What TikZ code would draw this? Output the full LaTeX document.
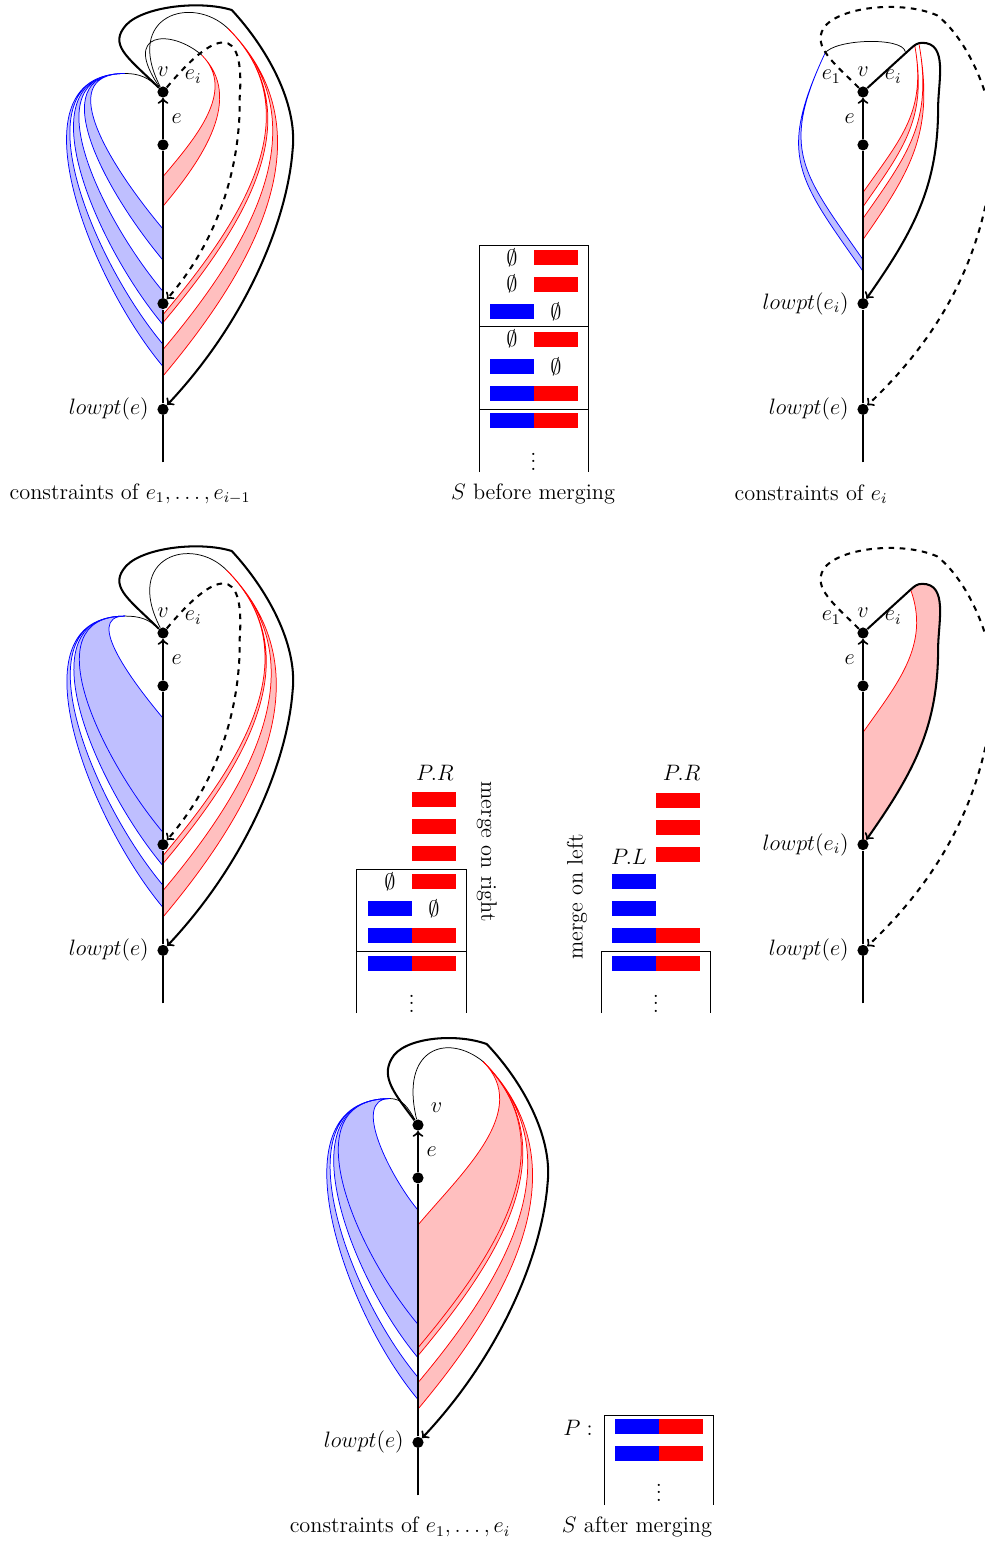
\documentclass[tikz,border=0pt]{standalone}
\usepackage{amsmath,amssymb}
\usetikzlibrary{positioning}

% a band of constraints: colour, start, out, in, then end and looseness of both sides
\newcommand{\band}[8]{%
  \fill[#1!25] #2 to[out=#3,in=#4,looseness=#6] (0,#5) -- (0,#7)
    to[out=#4,in=#3,looseness=#8] #2 -- cycle;
  \draw[#1] #2 to[out=#3,in=#4,looseness=#6] (0,#5)
    #2 to[out=#3,in=#4,looseness=#8] (0,#7);
}

\begin{document}
\begin{tikzpicture}[
  x=0.0189cm, y=-0.0189cm,
  font=\large,
  dfs/.style={x=1cm,y=1cm},
  vertex/.style={circle,fill,inner sep=0pt,minimum size=6pt},
  tree/.style={line width=1.1pt},
  back/.style={->,line width=1.1pt},
  frond/.style={->,line width=1.1pt,dashed},
  link/.style={thin},
  more/.style={inner sep=0pt}]

  \useasboundingbox (0,0) rectangle (984,1541);

  % constraints of e_1 ... e_{i-1}
  \begin{scope}[shift={(163,92)},dfs]
    \band{blue}{(-0.72,0.35)}{180}{130}{-2.59}{1.2}{-3.18}{1.15}
    \band{blue}{(-0.72,0.35)}{180}{130}{-3.77}{1.1}{-4.40}{1.05}
    \band{blue}{(-0.72,0.35)}{180}{130}{-4.77}{1.03}{-5.19}{1}
    \band{red}{(0.73,0.70)}{-45}{50}{-1.60}{1}{-2.16}{1}
    \band{red}{(1.23,1.20)}{-45}{50}{-4.21}{1.05}{-4.36}{1.05}
    \band{red}{(1.23,1.20)}{-45}{50}{-4.87}{1.05}{-5.37}{1.05}

    \node[vertex] (v1) at (0,0) {};
    \node[vertex] (w1) at (0,-1) {};
    \node[vertex] (lowi1) at (0,-4) {};
    \node[vertex] (lowe1) at (0,-6) {};
    \coordinate (bot1) at (0,-7);

    \draw[link] (v1) to[out=135,in=0] (-0.72,0.35);
    \draw[link] (v1) .. controls (-0.8,1.15) and (0.15,1.2) .. (0.73,0.70);
    \draw[link] (v1) .. controls (-0.75,1.45) and (0.55,1.85) .. (1.23,1.20);
    \draw[frond] (v1) .. controls (1,1.2) and (1.55,1.3) .. (1.45,-0.1)
      .. controls (1.47,-1.4) and (1.05,-2.8) .. (lowi1);
    \draw[back] (v1) .. controls (-0.6,0.6) and (-1,0.85) .. (-0.75,1.2)
      .. controls (-0.5,1.6) and (0.65,1.75) .. (1.3,1.55)
      .. controls (1.95,0.85) and (2.55,-0.2) .. (2.45,-1.1)
      .. controls (2.35,-2.4) and (1.6,-4.3) .. (lowe1);
    \draw[tree] (bot1) -- (lowe1) -- (lowi1) -- (w1);
    \draw[tree,->] (w1) -- (v1);

    \node at (0,0.38) {$v$};
    \node at (0.57,0.29) {$e_i$};
    \node at (0.26,-0.5) {$e$};
    \node[left=1pt of lowe1] {$lowpt(e)$};
  \end{scope}

  % constraints of e_i
  \begin{scope}[shift={(863,92)},dfs]
    \band{blue}{(-0.72,0.73)}{-115}{125}{-3.17}{1.3}{-3.39}{1.32}
    \band{red}{(0.98,0.87)}{-80}{55}{-1.90}{1.1}{-2.17}{1.1}
    \band{red}{(1.06,0.9)}{-80}{55}{-2.39}{1.1}{-2.79}{1.1}

    \node[vertex] (v2) at (0,0) {};
    \node[vertex] (w2) at (0,-1) {};
    \node[vertex] (lowi2) at (0,-4) {};
    \node[vertex] (lowe2) at (0,-6) {};
    \coordinate (bot2) at (0,-7);

    \draw[link] (-0.72,0.73) .. controls (-0.55,1) and (0.75,1.05) .. (0.8,0.76);
    \draw[frond] (v2) .. controls (-0.55,0.55) and (-0.95,0.85) .. (-0.75,1.2)
      .. controls (-0.5,1.6) and (0.7,1.75) .. (1.4,1.45)
      .. controls (2.1,0.9) and (2.6,-0.5) .. (2.45,-1.3)
      .. controls (2.3,-2.8) and (1.7,-4.4) .. (lowe2);
    \draw[back] (v2) -- (0.9,0.82) to[out=42,in=180] (1.12,0.93)
      to[out=0,in=90] (1.42,-0.3) to[out=-90,in=55] (lowi2);
    \draw[tree] (bot2) -- (lowe2) -- (lowi2) -- (w2);
    \draw[tree,->] (w2) -- (v2);

    \node at (-0.6,0.29) {$e_1$};
    \node at (0,0.38) {$v$};
    \node at (0.57,0.29) {$e_i$};
    \node at (-0.25,-0.5) {$e$};
    \node[left=1pt of lowi2] {$lowpt(e_i)$};
    \node[left=1pt of lowe2] {$lowpt(e)$};
  \end{scope}

  % merged on the left
  \begin{scope}[shift={(163,633)},dfs]
    \band{blue}{(-0.72,0.32)}{180}{130}{-1.61}{1}{-4.40}{1.05}
    \draw[blue] (-0.72,0.32) to[out=180,in=130,looseness=1.1] (0,-3.77);
    \band{blue}{(-0.72,0.32)}{180}{130}{-4.77}{1.03}{-5.19}{1}
    \band{red}{(1.20,1.19)}{-45}{50}{-4.21}{1.05}{-4.36}{1.05}
    \band{red}{(1.20,1.19)}{-45}{50}{-4.87}{1.05}{-5.37}{1.05}

    \node[vertex] (v3) at (0,0) {};
    \node[vertex] (w3) at (0,-1) {};
    \node[vertex] (lowi3) at (0,-4) {};
    \node[vertex] (lowe3) at (0,-6) {};
    \coordinate (bot3) at (0,-7);

    \draw[link] (v3) to[out=135,in=0] (-0.72,0.32);
    \draw[link] (v3) .. controls (-0.75,1.45) and (0.55,1.85) .. (1.20,1.19);
    \draw[frond] (v3) .. controls (1,1.2) and (1.55,1.3) .. (1.45,-0.1)
      .. controls (1.47,-1.4) and (1.05,-2.8) .. (lowi3);
    \draw[back] (v3) .. controls (-0.6,0.6) and (-1,0.85) .. (-0.75,1.2)
      .. controls (-0.5,1.6) and (0.65,1.75) .. (1.3,1.55)
      .. controls (1.95,0.85) and (2.55,-0.2) .. (2.45,-1.1)
      .. controls (2.35,-2.4) and (1.6,-4.3) .. (lowe3);
    \draw[tree] (bot3) -- (lowe3) -- (lowi3) -- (w3);
    \draw[tree,->] (w3) -- (v3);

    \node at (0,0.38) {$v$};
    \node at (0.57,0.29) {$e_i$};
    \node at (0.26,-0.5) {$e$};
    \node[left=1pt of lowe3] {$lowpt(e)$};
  \end{scope}

  % e_i alone
  \begin{scope}[shift={(863,633)},dfs]
    \fill[red!25] (0.9,0.82) to[out=-70,in=55] (0,-1.88) -- (0,-4)
      to[out=55,in=-90] (1.42,-0.3) to[out=90,in=0] (1.12,0.93)
      to[out=180,in=42] (0.9,0.82) -- cycle;
    \draw[red] (0.9,0.82) to[out=-70,in=55] (0,-1.88);

    \node[vertex] (v4) at (0,0) {};
    \node[vertex] (w4) at (0,-1) {};
    \node[vertex] (lowi4) at (0,-4) {};
    \node[vertex] (lowe4) at (0,-6) {};
    \coordinate (bot4) at (0,-7);

    \draw[frond] (v4) .. controls (-0.55,0.55) and (-0.95,0.85) .. (-0.75,1.2)
      .. controls (-0.5,1.6) and (0.7,1.75) .. (1.4,1.45)
      .. controls (2.1,0.9) and (2.6,-0.5) .. (2.45,-1.3)
      .. controls (2.3,-2.8) and (1.7,-4.4) .. (lowe4);
    \draw[back] (v4) -- (0.9,0.82) to[out=42,in=180] (1.12,0.93)
      to[out=0,in=90] (1.42,-0.3) to[out=-90,in=55] (lowi4);
    \draw[tree] (bot4) -- (lowe4) -- (lowi4) -- (w4);
    \draw[tree,->] (w4) -- (v4);

    \node at (-0.6,0.29) {$e_1$};
    \node at (0,0.38) {$v$};
    \node at (0.57,0.29) {$e_i$};
    \node at (-0.25,-0.5) {$e$};
    \node[left=1pt of lowi4] {$lowpt(e_i)$};
    \node[left=1pt of lowe4] {$lowpt(e)$};
  \end{scope}

  % constraints of e_1 ... e_i
  \begin{scope}[shift={(418,1125)},dfs]
    \band{blue}{(-0.53,0.5)}{180}{130}{-1.61}{0.9}{-4.40}{1.05}
    \draw[blue] (-0.53,0.5) to[out=180,in=130,looseness=1.12] (0,-3.77);
    \band{blue}{(-0.53,0.5)}{180}{130}{-4.77}{1.03}{-5.19}{1}
    \band{red}{(1.23,1.2)}{-45}{50}{-1.89}{1}{-4.36}{1.05}
    \draw[red] (1.23,1.2) to[out=-45,in=50,looseness=1.05] (0,-4.21);
    \band{red}{(1.23,1.2)}{-45}{50}{-4.87}{1.05}{-5.37}{1.05}

    \node[vertex] (v5) at (0,0) {};
    \node[vertex] (w5) at (0,-1) {};
    \node[vertex] (lowe5) at (0,-6) {};
    \coordinate (bot5) at (0,-7);

    \draw[link] (v5) to[out=120,in=0] (-0.53,0.5);
    \draw[link] (v5) .. controls (-0.35,1.45) and (0.55,1.75) .. (1.23,1.2);
    \draw[back] (v5) .. controls (-0.45,0.6) and (-0.7,0.9) .. (-0.5,1.25)
      .. controls (-0.3,1.65) and (0.7,1.75) .. (1.3,1.53)
      .. controls (1.95,0.85) and (2.55,-0.2) .. (2.45,-1.1)
      .. controls (2.35,-2.4) and (1.6,-4.3) .. (lowe5);
    \draw[tree] (bot5) -- (lowe5) -- (w5);
    \draw[tree,->] (w5) -- (v5);

    \node at (0.35,0.32) {$v$};
    \node at (0.26,-0.5) {$e$};
    \node[left=1pt of lowe5] {$lowpt(e)$};
  \end{scope}

  % stack S before merging
  \draw (479.3,472) |- (588.3,245) -- (588.3,472);
  \draw (479.3,326.7) -- (588.3,326.7);
  \draw (479.3,409) -- (588.3,409);
  \node at (512,257.5) {$\emptyset$};
  \fill[red] (534,250) rectangle +(44,15);
  \node at (512,284) {$\emptyset$};
  \fill[red] (534,276.5) rectangle +(44,15);
  \fill[blue] (490,304) rectangle +(44,15);
  \node at (556,311.5) {$\emptyset$};
  \node at (512,339) {$\emptyset$};
  \fill[red] (534,331.5) rectangle +(44,15);
  \fill[blue] (490,359) rectangle +(44,15);
  \node at (556,366.5) {$\emptyset$};
  \fill[blue] (490,385.5) rectangle +(44,15);
  \fill[red] (534,385.5) rectangle +(44,15);
  \fill[blue] (490,412.5) rectangle +(44,15);
  \fill[red] (534,412.5) rectangle +(44,15);
  \node[more] at (533.5,456) {$\vdots$};

  % merge on right
  \draw (356.7,1013) |- (466.7,869) -- (466.7,1013);
  \draw (356.7,951) -- (466.7,951);
  \node at (435,773) {$P.R$};
  \fill[red] (412,791.5) rectangle +(44,15);
  \fill[red] (412,819) rectangle +(44,15);
  \fill[red] (412,846) rectangle +(44,15);
  \node at (390,881.5) {$\emptyset$};
  \fill[red] (412,874) rectangle +(44,15);
  \fill[blue] (368,901) rectangle +(44,15);
  \node at (434,908.5) {$\emptyset$};
  \fill[blue] (368,928) rectangle +(44,15);
  \fill[red] (412,928) rectangle +(44,15);
  \fill[blue] (368,956) rectangle +(44,15);
  \fill[red] (412,956) rectangle +(44,15);
  \node[more] at (411.7,998) {$\vdots$};
  \node[rotate=-90] at (486.7,851.7) {merge on right};

  % merge on left
  \draw (601,1013) |- (710.7,951) -- (710.7,1013);
  \node at (681.7,773) {$P.R$};
  \node at (629,856.7) {$P.L$};
  \fill[red] (656,793) rectangle +(44,15);
  \fill[red] (656,820) rectangle +(44,15);
  \fill[red] (656,847) rectangle +(44,15);
  \fill[blue] (612,874) rectangle +(44,15);
  \fill[blue] (612,901) rectangle +(44,15);
  \fill[blue] (612,928) rectangle +(44,15);
  \fill[red] (656,928) rectangle +(44,15);
  \fill[blue] (612,956) rectangle +(44,15);
  \fill[red] (656,956) rectangle +(44,15);
  \node[more] at (656,998) {$\vdots$};
  \node[rotate=90] at (577,897) {merge on left};

  % stack S after merging
  \node at (578,1428) {$P:$};
  \draw (604,1505) |- (713.3,1415) -- (713.3,1505);
  \fill[blue] (615,1419.2) rectangle +(44,15);
  \fill[red] (659,1419.2) rectangle +(44,15);
  \fill[blue] (615,1445.8) rectangle +(44,15);
  \fill[red] (659,1445.8) rectangle +(44,15);
  \node[more] at (659,1487) {$\vdots$};

  % captions
  \node at (130,494) {constraints of $e_1,\dots,e_{i-1}$};
  \node at (533,494) {$S$ before merging};
  \node at (811,494) {constraints of $e_i$};
  \node at (400,1527) {constraints of $e_1,\dots,e_i$};
  \node at (637,1527) {$S$ after merging};
\end{tikzpicture}
\end{document}
